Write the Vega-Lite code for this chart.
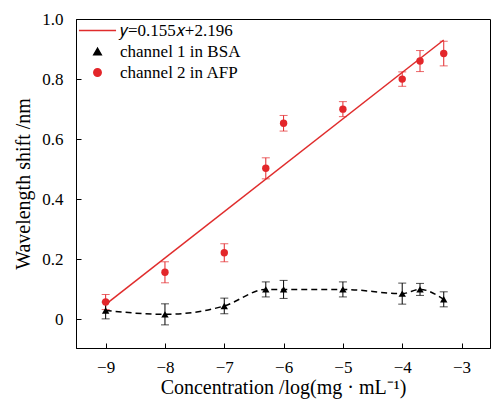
{
  "$schema": "https://vega.github.io/schema/vega-lite/v6.json",
  "width": 414,
  "height": 329,
  "autosize": {"type": "none"},
  "padding": {"left": 76, "top": 19, "right": 1, "bottom": 54},
  "background": "white",
  "config": {
    "font": "Liberation Serif",
    "view": {"stroke": "black", "strokeWidth": 1},
    "axis": {
      "grid": false,
      "domainColor": "black",
      "tickColor": "black",
      "tickSize": -5,
      "labelColor": "black",
      "titleColor": "black",
      "labelFontSize": 17,
      "titleFontSize": 20,
      "titleFontWeight": "normal",
      "labelFont": "Liberation Serif",
      "titleFont": "Liberation Serif"
    },
    "legend": {"labelFont": "Liberation Serif", "labelFontSize": 17, "labelColor": "black", "symbolOpacity": 1}
  },
  "datasets": {
    "pts": [
      {"x": -9, "v": 0.058, "e": 0.025, "series": "channel 2 in AFP"},
      {"x": -8, "v": 0.157, "e": 0.035, "series": "channel 2 in AFP"},
      {"x": -7, "v": 0.222, "e": 0.03, "series": "channel 2 in AFP"},
      {"x": -6.3, "v": 0.503, "e": 0.035, "series": "channel 2 in AFP"},
      {"x": -6, "v": 0.653, "e": 0.026, "series": "channel 2 in AFP"},
      {"x": -5, "v": 0.7, "e": 0.025, "series": "channel 2 in AFP"},
      {"x": -4, "v": 0.8, "e": 0.024, "series": "channel 2 in AFP"},
      {"x": -3.7, "v": 0.86, "e": 0.035, "series": "channel 2 in AFP"},
      {"x": -3.3, "v": 0.885, "e": 0.041, "series": "channel 2 in AFP"},
      {"x": -9, "v": 0.03, "e": 0.028, "series": "channel 1 in BSA"},
      {"x": -8, "v": 0.017, "e": 0.035, "series": "channel 1 in BSA"},
      {"x": -7, "v": 0.045, "e": 0.026, "series": "channel 1 in BSA"},
      {"x": -6.3, "v": 0.1, "e": 0.025, "series": "channel 1 in BSA"},
      {"x": -6, "v": 0.1, "e": 0.03, "series": "channel 1 in BSA"},
      {"x": -5, "v": 0.1, "e": 0.025, "series": "channel 1 in BSA"},
      {"x": -4, "v": 0.086, "e": 0.035, "series": "channel 1 in BSA"},
      {"x": -3.7, "v": 0.1, "e": 0.02, "series": "channel 1 in BSA"},
      {"x": -3.3, "v": 0.067, "e": 0.025, "series": "channel 1 in BSA"}
    ],
    "fit": [
      {"x": -9, "v": 0.05, "series": "𝑦=0.155𝑥+2.196"},
      {"x": -3.3, "v": 0.93, "series": "𝑦=0.155𝑥+2.196"}
    ]
  },
  "layer": [
    {
      "data": {"name": "fit"},
      "mark": {"type": "line", "strokeWidth": 1.5},
      "encoding": {
        "x": {"field": "x", "type": "quantitative", "title": "Concentration /log(mg · mL⁻¹)"},
        "y": {"field": "v", "type": "quantitative", "title": "Wavelength shift /nm"},
        "color": {"field": "series", "type": "nominal"}
      }
    },
    {
      "data": {"name": "pts"},
      "transform": [{"filter": "datum.series == 'channel 1 in BSA'"}],
      "mark": {"type": "line", "interpolate": "monotone", "strokeDash": [6, 4], "color": "black", "strokeWidth": 1.5},
      "encoding": {
        "x": {"field": "x", "type": "quantitative", "title": "Concentration /log(mg · mL⁻¹)"},
        "y": {"field": "v", "type": "quantitative", "title": "Wavelength shift /nm"}
      }
    },
    {
      "data": {"name": "pts"},
      "mark": {"type": "errorbar", "ticks": {"size": 8}, "thickness": 1},
      "encoding": {
        "x": {"field": "x", "type": "quantitative", "title": "Concentration /log(mg · mL⁻¹)"},
        "y": {"field": "v", "type": "quantitative", "title": "Wavelength shift /nm"},
        "yError": {"field": "e"},
        "color": {"field": "series", "type": "nominal"}
      }
    },
    {
      "data": {"name": "pts"},
      "mark": {"type": "point", "filled": true, "opacity": 1, "size": 55},
      "encoding": {
        "x": {
          "field": "x", "type": "quantitative",
          "scale": {"domain": [-9.5, -2.52], "nice": false, "zero": false},
          "axis": {"values": [-9, -8, -7, -6, -5, -4, -3], "format": "d", "title": "Concentration /log(mg · mL⁻¹)", "labelPadding": 16, "titlePadding": 2, "labelFont": "Liberation Serif", "labelFontSize": 17}
        },
        "y": {
          "field": "v", "type": "quantitative",
          "scale": {"domain": [-0.095, 1.0], "nice": false, "zero": false},
          "axis": {"values": [0, 0.2, 0.4, 0.6, 0.8, 1.0], "labelExpr": "datum.value == 0 ? '0' : format(datum.value, '.1f')", "title": "Wavelength shift /nm", "labelPadding": 18, "titlePadding": 8, "labelFont": "Liberation Serif", "labelFontSize": 17}
        },
        "color": {
          "field": "series", "type": "nominal",
          "scale": {"domain": ["𝑦=0.155𝑥+2.196", "channel 1 in BSA", "channel 2 in AFP"], "range": ["#e02c2c", "black", "#e3262a"]},
          "legend": {"title": null, "orient": "top-left", "offset": 1, "padding": 2, "rowPadding": 3, "symbolSize": 55, "symbolOffset": 10, "labelOffset": 14, "symbolStrokeWidth": 1.5, "symbolOpacity": 1, "labelFont": "Liberation Serif", "labelFontSize": 17,
            "encode": {"symbols": {"update": {"stroke": {"signal": "scale('color', datum.value)"}, "opacity": {"value": 1}}}}}
        },
        "shape": {
          "field": "series", "type": "nominal",
          "scale": {"domain": ["𝑦=0.155𝑥+2.196", "channel 1 in BSA", "channel 2 in AFP"], "range": ["M-5,0H5", "triangle-up", "circle"]},
          "legend": {"title": null, "orient": "top-left", "offset": 1, "padding": 2, "rowPadding": 3, "symbolSize": 55, "symbolOffset": 10, "labelOffset": 14, "symbolStrokeWidth": 1.5, "symbolOpacity": 1, "labelFont": "Liberation Serif", "labelFontSize": 17,
            "encode": {"symbols": {"update": {"stroke": {"signal": "scale('color', datum.value)"}, "opacity": {"value": 1}}}}}
        }
      }
    }
  ]
}
